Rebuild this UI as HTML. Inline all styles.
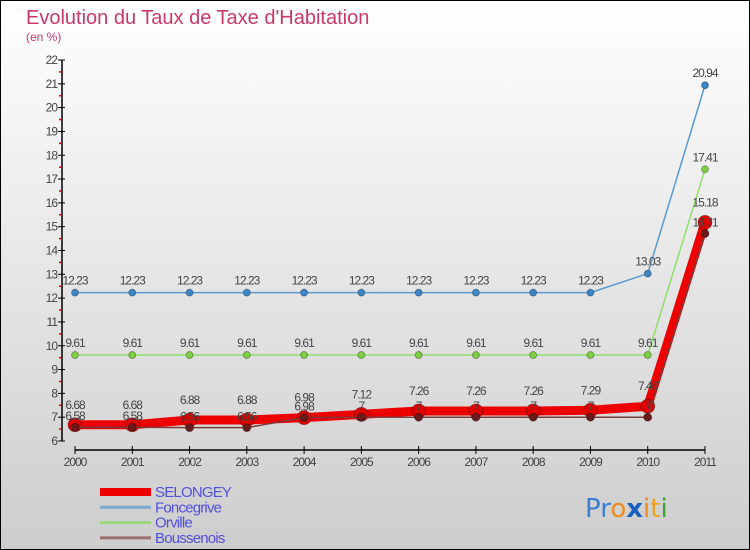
<!DOCTYPE html>
<html><head><meta charset="utf-8"><style>
html,body{margin:0;padding:0}
body{width:750px;height:550px;overflow:hidden;font-family:"Liberation Sans",sans-serif}
svg{display:block}
</style></head><body>
<svg id="c" width="750" height="550" xmlns="http://www.w3.org/2000/svg">
<defs><linearGradient id="bg" x1="0" y1="0" x2="0" y2="1"><stop offset="0" stop-color="#ffffff"/><stop offset="1" stop-color="#cdcdcd"/></linearGradient></defs>
<rect x="0.5" y="0.5" width="749" height="549" fill="url(#bg)" stroke="#000"/>
<text x="26" y="24" font-size="20" fill="#c8396a">Evolution du Taux de Taxe d'Habitation</text>
<text x="26" y="41" font-size="12" fill="#c8396a">(en %)</text>
<g id="axes"></g><g id="series"></g><g id="legend"></g>
<text x="585" y="517" font-size="26" font-family="'DejaVu Sans',sans-serif"><tspan fill="#3a7fd0">Pr</tspan><tspan fill="#f08a1c">o</tspan><tspan fill="#1a5fc0" font-weight="bold">x</tspan><tspan fill="#f08a1c">i</tspan><tspan fill="#f0a01c">t</tspan><tspan fill="#3aa030">i</tspan></text>
</svg>
<script>
const years=["2000","2001","2002","2003","2004","2005","2006","2007","2008","2009","2010","2011"];
const yTicks=[6,7,8,9,10,11,12,13,14,15,16,17,18,19,20,21,22];
const selongey=[6.68,6.68,6.88,6.88,6.98,7.12,7.26,7.26,7.26,7.29,7.46,15.18];
const foncegrive=[12.23,12.23,12.23,12.23,12.23,12.23,12.23,12.23,12.23,12.23,13.03,20.94];
const orville=[9.61,9.61,9.61,9.61,9.61,9.61,9.61,9.61,9.61,9.61,9.61,17.41];
const boussenois=[6.58,6.58,6.56,6.56,6.98,7,7,7,7,7,7,14.71];
const NS="http://www.w3.org/2000/svg";
const X=i=>75+i*(630/11);
const Y=v=>441-(v-6)*(381/16);
function mk(p,t,a){const e=document.createElementNS(NS,t);for(const k in a)e.setAttribute(k,a[k]);p.appendChild(e);return e;}
const ax=document.getElementById('axes');
let l=mk(ax,'line',{x1:62,y1:Y(22),x2:62,y2:441,stroke:'#000','stroke-width':1.5});


l=mk(ax,'line',{x1:75,y1:450,x2:705,y2:450,stroke:'#000','stroke-width':1.5});


yTicks.forEach(v=>{
 mk(ax,'line',{x1:58,y1:Y(v),x2:65,y2:Y(v),stroke:'#000'});
 if(v<22)mk(ax,'line',{x1:59,y1:Y(v+0.5),x2:62,y2:Y(v+0.5),stroke:'#e00000','stroke-width':1.5});
 const t=mk(ax,'text',{x:57,y:Y(v)+4,'font-size':12,'text-anchor':'end',fill:'#444','letter-spacing':'-1'});
 t.textContent=v;
 
 
});
years.forEach((y,i)=>{
 mk(ax,'line',{x1:X(i),y1:446,x2:X(i),y2:454,stroke:'#000'});
 const t=mk(ax,'text',{x:X(i),y:466,'font-size':12,'text-anchor':'middle',fill:'#444','letter-spacing':'-1'});
 t.textContent=y;
 
 
});
const sg=document.getElementById('series');
function draw(vals,col,w,r,dot,name,lab){
 const g=mk(sg,'g',{});
 
 
 const p=mk(g,'polyline',{points:vals.map((v,i)=>X(i)+','+Y(v)).join(' '),fill:'none',stroke:col,'stroke-width':w,'stroke-linejoin':'round'});
 
 
 vals.forEach((v,i)=>{
  const c=mk(g,'circle',{cx:X(i),cy:Y(v),r:r,fill:dot,stroke:'rgba(0,0,0,0.3)'});
  
  
  const t=mk(g,'text',{x:X(i),y:Y(v)-lab,'font-size':12,'text-anchor':'middle',fill:'#444','letter-spacing':'-1'});
  t.textContent=String(v);
  
  
 });
}
draw(foncegrive,'#5a9ad0',1.5,3.5,'#3a86c8','foncegrive',8);
draw(orville,'#8ee06a',1.5,3.5,'#7ed040','orville',8);
draw(selongey,'#ee0000',9,7,'#e00000','selongey',16);
draw(boussenois,'#7a3a3a',1.5,4,'#6a1a1a','boussenois',7);
const lg=document.getElementById('legend');
const names=["SELONGEY","Foncegrive","Orville","Boussenois"];
const cols=["#ee0000","#7aaad0","#9ad880","#9a7070"];
const ws=[8,3,3,3];
names.forEach((n,i)=>{
 const y=492+i*15.3;
 const g=mk(lg,'g',{});
 
 
 mk(g,'line',{x1:100,y1:y,x2:151,y2:y,stroke:cols[i],'stroke-width':ws[i]});
 const t=mk(g,'text',{x:155,y:y+5,'font-size':15,fill:'#5050e0','letter-spacing':'-0.8'});
 t.textContent=n;
});
</script>
</body></html>
